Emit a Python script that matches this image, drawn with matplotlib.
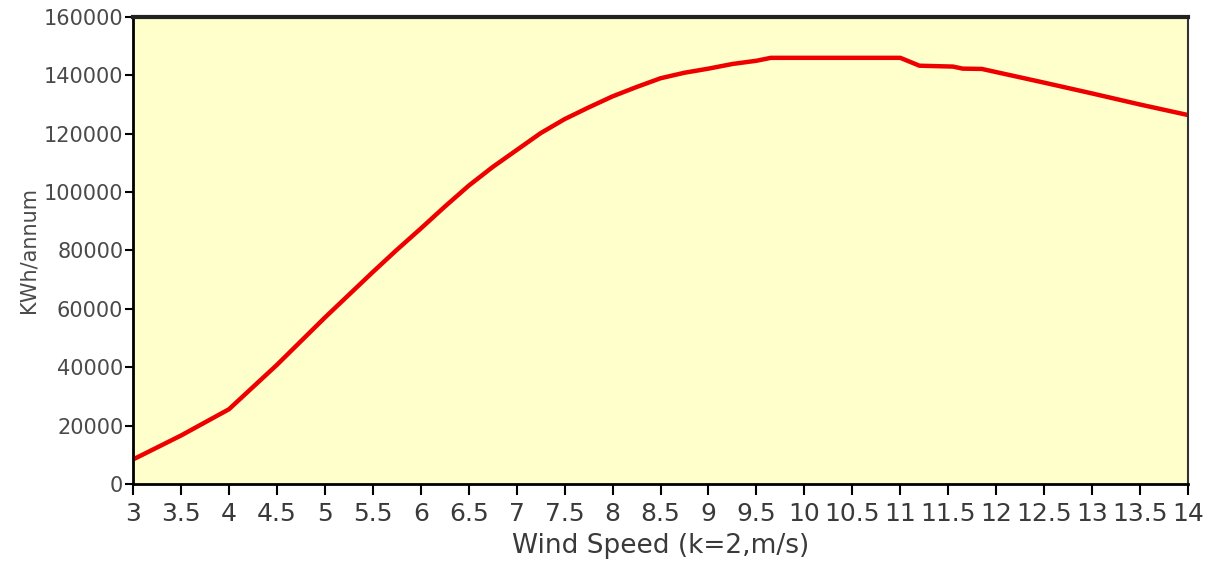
import matplotlib
matplotlib.use("Agg")
import matplotlib.pyplot as plt

# Energy yield vs mean wind speed
wind_speed = [3, 3.5, 4, 4.5, 5, 5.5, 5.75, 6, 6.25, 6.5, 6.75, 7, 7.25, 7.5,
              7.75, 8, 8.25, 8.5, 8.75, 9, 9.25, 9.5, 9.65,
              11.0, 11.2, 11.55, 11.65, 11.85, 12.5, 13, 13.5, 14]
kwh_annum = [8400, 16600, 25600, 40800, 57000, 72600, 80200, 87500, 95000, 102200,
             108600, 114400, 120200, 125000, 129000, 132800, 136000, 139000,
             140900, 142300, 143900, 145000, 146000,
             146000, 143300, 143000, 142300, 142200, 137500, 133800, 130000, 126400]

x_ticks = [3 + 0.5 * i for i in range(23)]
x_tick_labels = ["%g" % t for t in x_ticks]
y_ticks = list(range(0, 160001, 20000))

fig = plt.figure(figsize=(12.17, 5.62), dpi=100)
ax = fig.add_axes([0.1093, 0.1388, 0.8669, 0.831])
ax.set_facecolor("#ffffcc")

ax.plot(wind_speed, kwh_annum, color="#ee0000", linewidth=3.2, solid_capstyle="butt")

ax.set_xlim(3, 14)
ax.set_ylim(0, 160000)
ax.set_xticks(x_ticks)
ax.set_xticklabels(x_tick_labels)
ax.set_yticks(y_ticks)

ax.tick_params(axis="x", labelsize=18, length=8, width=1.5, colors="black",
               labelcolor="#3a3a3a", pad=5)
ax.tick_params(axis="y", labelsize=15, length=6, width=1.5, colors="black",
               labelcolor="#4a4a4a", pad=1)

ax.set_xlabel("Wind Speed (k=2,m/s)", fontsize=19, color="#3a3a3a", labelpad=5)
ax.set_ylabel("KWh/annum", fontsize=15, color="#4a4a4a", labelpad=4)

for side in ["left", "bottom"]:
    ax.spines[side].set_linewidth(2.0)
    ax.spines[side].set_color("black")
ax.spines["top"].set_linewidth(3.0)
ax.spines["top"].set_color("#222222")
ax.spines["right"].set_linewidth(1.5)
ax.spines["right"].set_color("#333333")

fig.savefig("out.png", dpi=100, facecolor="white")
